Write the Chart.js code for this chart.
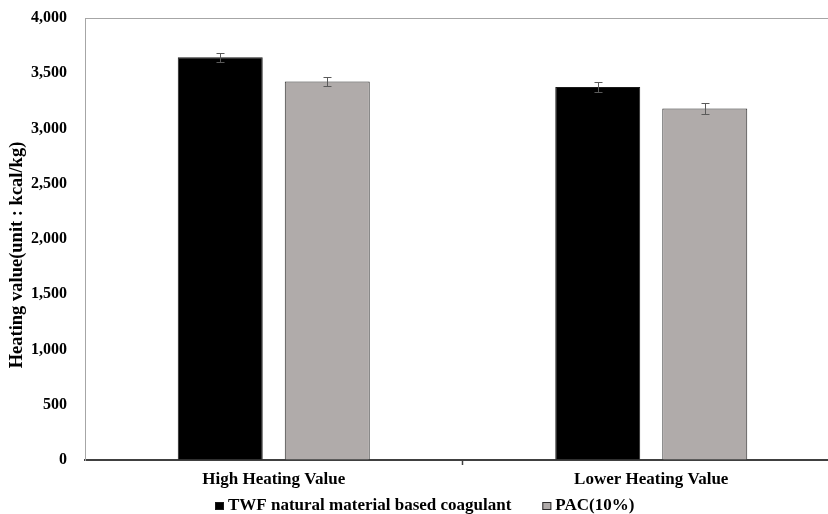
<!DOCTYPE html>
<html>
<head>
<meta charset="utf-8">
<script src="https://cdn.jsdelivr.net/npm/chart.js@4/dist/chart.umd.min.js"></script>
<style>
  html, body { margin: 0; padding: 0; background: #fff; overflow: hidden; }
  #wrap { position: relative; width: 845px; height: 514px; }
</style>
</head>
<body>
<div id="wrap"><canvas id="chart"></canvas></div>
<script>
// Heating values of sludge treated with two coagulants (kcal/kg)
const categories = ['High Heating Value', 'Lower Heating Value'];
const twfValues = [3645, 3375];
const twfErrors = [40, 45];
const pacValues = [3425, 3180];
const pacErrors = [42, 48];
const yTickValues = [0, 500, 1000, 1500, 2000, 2500, 3000, 3500, 4000];
const seriesNames = ['TWF natural material based coagulant', 'PAC(10%)'];
const yTitle = 'Heating value(unit : kcal/kg)';

const FONT = "'Liberation Serif', 'Times New Roman', serif";

// whiskers for the standard deviation of each bar
const errorBars = {
  id: 'errorBars',
  afterDatasetsDraw(chart) {
    const ctx = chart.ctx;
    const y = chart.scales.y;
    ctx.save();
    ctx.strokeStyle = '#5a5a5a';
    ctx.lineWidth = 1;
    chart.data.datasets.forEach((ds, i) => {
      const meta = chart.getDatasetMeta(i);
      meta.data.forEach((bar, j) => {
        const v = ds.data[j], e = ds.errors[j];
        const top = Math.round(y.getPixelForValue(v + e)) + 0.5;
        const bot = Math.round(y.getPixelForValue(v - e)) + 0.5;
        const x = Math.round(bar.x) + 0.5;
        ctx.beginPath();
        ctx.moveTo(x, top); ctx.lineTo(x, bot);
        ctx.moveTo(x - 4, top); ctx.lineTo(x + 4, top);
        ctx.moveTo(x - 4, bot); ctx.lineTo(x + 4, bot);
        ctx.stroke();
      });
    });
    ctx.restore();
  }
};

// rotated axis title and the legend row under the axis labels
const decorations = {
  id: 'decorations',
  afterDraw(chart) {
    const ctx = chart.ctx;
    const area = chart.chartArea;
    ctx.save();
    ctx.fillStyle = '#000';
    ctx.font = 'bold 18.5px ' + FONT;
    ctx.textAlign = 'center';
    ctx.textBaseline = 'middle';
    ctx.translate(17, (area.top + area.bottom) / 2 + 16);
    ctx.rotate(-Math.PI / 2);
    ctx.fillText(yTitle, 0, 0);
    ctx.restore();

    ctx.save();
    ctx.font = 'bold 17px ' + FONT;
    ctx.textBaseline = 'alphabetic';
    ctx.textAlign = 'left';
    const box = 9, gapText = 4, gapItem = 31;
    const items = chart.data.datasets.map(ds => ({
      text: ds.label, fill: ds.backgroundColor, stroke: ds.borderColor,
      w: box + gapText + ctx.measureText(ds.label).width
    }));
    const total = items.reduce((s, it) => s + it.w, 0) + gapItem * (items.length - 1);
    let x = Math.round(chart.width / 2 - total / 2) + 2;
    const baseline = 510;
    items.forEach(it => {
      ctx.fillStyle = it.fill;
      ctx.fillRect(x, baseline - 8, box, 8);
      ctx.strokeStyle = it.stroke;
      ctx.lineWidth = 1;
      ctx.strokeRect(x + 0.5, baseline - 7.5, box - 1, 7);
      ctx.fillStyle = '#000';
      ctx.fillText(it.text, x + box + gapText, baseline);
      x += it.w + gapItem;
    });
    ctx.restore();
  }
};

new Chart(document.getElementById('chart'), {
  type: 'bar',
  data: {
    labels: categories,
    datasets: [
      {
        label: seriesNames[0],
        data: twfValues,
        errors: twfErrors,
        backgroundColor: '#000000',
        borderColor: '#1a1a1a',
        borderWidth: 1,
        categoryPercentage: 0.567,
        barPercentage: 0.794
      },
      {
        label: seriesNames[1],
        data: pacValues,
        errors: pacErrors,
        backgroundColor: '#b0abaa',
        borderColor: '#2b2b2b',
        borderWidth: 1,
        categoryPercentage: 0.567,
        barPercentage: 0.794
      }
    ]
  },
  options: {
    responsive: true,
    maintainAspectRatio: false,
    animation: false,
    layout: { padding: { top: 18, right: 5, left: 0, bottom: 0 } },
    plugins: {
      legend: { display: false },
      tooltip: { enabled: false }
    },
    scales: {
      x: {
        offset: true,
        grid: {
          offset: true,
          drawOnChartArea: false,
          drawTicks: true,
          tickLength: 5,
          tickColor: c => (c.index === 1 ? '#404040' : 'rgba(0,0,0,0)'),
          tickWidth: 1.5
        },
        border: { color: '#404040', width: 2 },
        ticks: {
          color: '#000',
          padding: 4,
          font: { family: FONT, size: 17, weight: 'bold' }
        },
        afterFit(scale) { scale.height = 54; }
      },
      y: {
        min: 0,
        max: 4000,
        afterBuildTicks(scale) { scale.ticks = yTickValues.map(v => ({ value: v })); },
        grid: {
          drawTicks: false,
          color: c => (c.tick && c.tick.value === 4000 ? '#a6a6a6' : 'rgba(0,0,0,0)'),
          lineWidth: 1
        },
        border: { color: '#a6a6a6', width: 1 },
        ticks: {
          color: '#000',
          padding: 18,
          font: { family: FONT, size: 16, weight: 'bold' },
          callback: v => v.toLocaleString('en-US')
        },
        title: { display: false },
        afterFit(scale) {
          scale.width = 85;
          scale.paddingTop = 0;
          scale.paddingBottom = 0;
        }
      }
    }
  },
  plugins: [errorBars, decorations]
});
</script>
</body>
</html>
